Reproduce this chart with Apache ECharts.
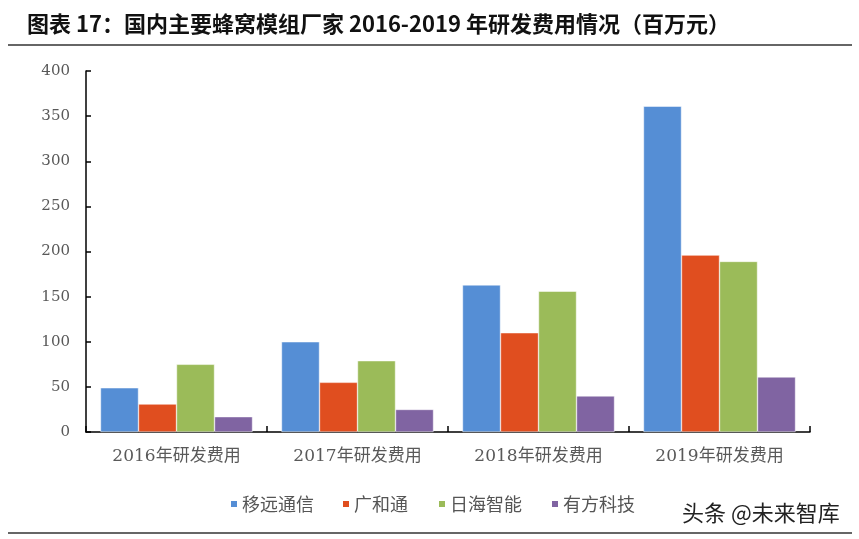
<!DOCTYPE html>
<html><head><meta charset="utf-8">
<script src="https://cdn.jsdelivr.net/npm/echarts@6/dist/echarts.min.js"></script>
<style>html,body{margin:0;padding:0;background:#fff}#c{width:859px;height:539px}</style>
</head><body><div id="c"></div>
<script>
const categories = ['2016年研发费用','2017年研发费用','2018年研发费用','2019年研发费用'];
const seriesNames = ['移远通信','广和通','日海智能','有方科技'];
const yiyuan = [49, 100, 163, 361];
const guanghetong = [31, 55, 110, 196];
const rihai = [75, 79, 156, 189];
const youfang = [17, 25, 40, 61];
const colors = ['#558ED5','#E04E1F','#9BBB59','#8064A2'];
const values = [yiyuan, guanghetong, rihai, youfang];
const legendLeft = [224, 336, 432, 545];

const chart = echarts.init(document.getElementById('c'));
chart.setOption({
  animation:false,
  title:{text:'图表 17：国内主要蜂窝模组厂家 2016-2019 年研发费用情况（百万元）',left:22,top:8,
    textStyle:{fontFamily:'Noto Sans CJK SC',fontWeight:'bold',fontSize:22,color:'#111'}},
  graphic:[
    {type:'line',shape:{x1:8,y1:45,x2:852,y2:45},style:{stroke:'#333',lineWidth:1.5}},
    {type:'line',shape:{x1:8,y1:533,x2:852,y2:533},style:{stroke:'#333',lineWidth:1.5}},
    {type:'text',left:682,top:502,style:{text:'头条 @未来智库',font:'22px "Noto Sans CJK SC"',fill:'#222'}}
  ],
  legend: seriesNames.map((n,i)=>({data:[n],left:legendLeft[i],top:490,itemWidth:8,itemHeight:8,itemGap:0,icon:'rect',
    textStyle:{fontFamily:'Noto Sans CJK SC',fontSize:18,color:'#555',padding:[0,0,0,-1]}})),
  grid:{left:86,right:49,top:71,bottom:107},
  xAxis:{type:'category',data:categories,
    axisLine:{lineStyle:{color:'#000',width:1.5}},
    axisTick:{show:true,inside:true,length:6,lineStyle:{color:'#000',width:1.5}},
    axisLabel:{fontFamily:'DejaVu Serif, Noto Sans CJK SC',fontSize:17,color:'#595959',margin:16}},
  yAxis:{type:'value',min:0,max:400,interval:50,
    axisLine:{show:true,lineStyle:{color:'#000',width:1.5}},
    axisTick:{show:true,inside:true,length:5,lineStyle:{color:'#000',width:1.5}},
    splitLine:{show:false},
    axisLabel:{fontFamily:'DejaVu Serif',fontSize:15,color:'#595959',margin:16}},
  series: seriesNames.map((n,i)=>({name:n,type:'bar',data:values[i],barGap:'0%',barCategoryGap:'16%',
    itemStyle:{color:colors[i],borderColor:'#fff',borderWidth:0.5}}))
});
</script></body></html>
